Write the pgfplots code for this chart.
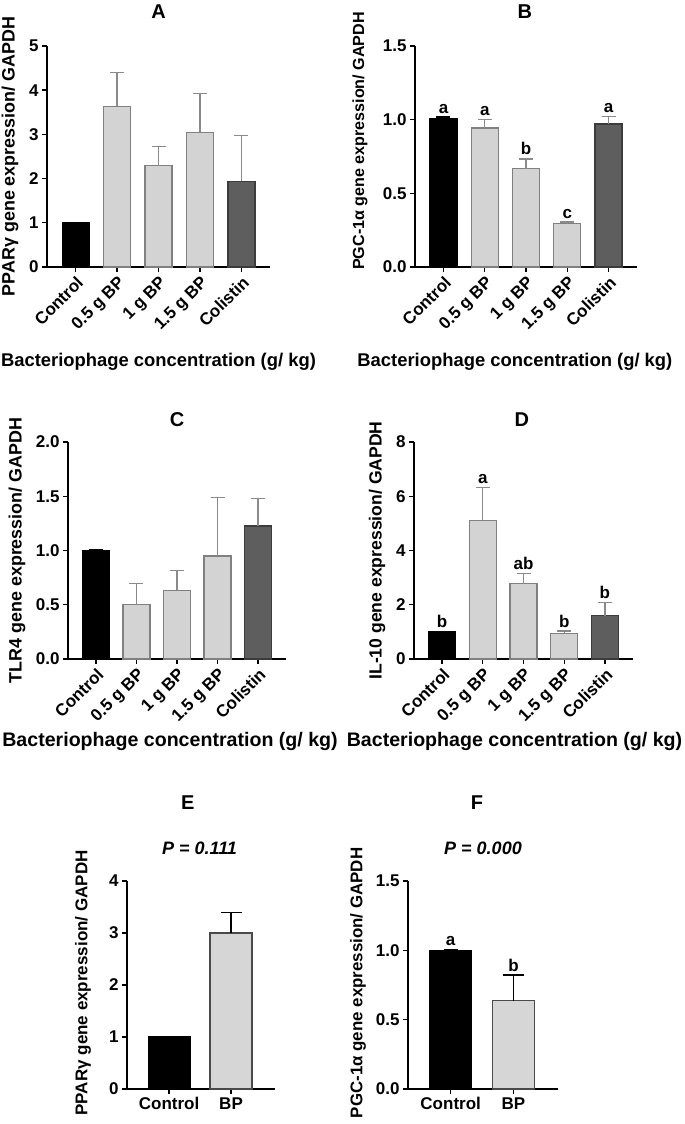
\documentclass[border=0pt]{standalone}
\usepackage{fontspec}
\setmainfont{Liberation Sans}
\usepackage{pgfplots}
\pgfplotsset{compat=1.18}
\definecolor{lg}{HTML}{D3D3D3}
\definecolor{lgedge}{HTML}{808080}
\definecolor{dg}{HTML}{5E5E5E}
\definecolor{dgedge}{HTML}{3C3C3C}
\definecolor{errg}{HTML}{8A8A8A}
\definecolor{bpfill}{HTML}{D6D6D6}
\definecolor{bpedge}{HTML}{4A4A4A}
\newcommand{\fs}[1]{\fontsize{#1}{#1}\selectfont\bfseries}
\pgfplotsset{
  panel/.style={
    scale only axis, clip=false,
    axis lines=left, axis line style={-, line width=1.4pt, black},
    tick align=outside, major tick length=5pt,
    every tick/.style={black, line width=1.4pt},
    tick label style={font=\fs{17}},
    /pgf/number format/assume math mode=true,
    ymin=0,
    every axis title shift=0pt,
    ylabel style={anchor=center},
    xlabel style={anchor=center},
    title style={anchor=center, font=\fs{20}},
  },
  rot/.style={xtick={0,1,2,3,4}, xticklabels={Control,0.5 g BP,1 g BP,1.5 g BP,Colistin},
    x tick label style={rotate=45, anchor=north east, inner sep=2pt}},
  onedec/.style={yticklabel style={/pgf/number format/.cd, fixed, fixed zerofill, precision=1}},
  mybar/.style n args={4}{ybar, bar width=#1, bar shift=0pt, fill=#2, draw=#3, line width=1.2pt,
    error bars/y dir=plus, error bars/y explicit,
    error bars/error bar style={#4, line width=1.4pt},
    error bars/error mark options={#4, rotate=90, line width=1.4pt, mark size=7pt}},
  lab/.style={draw=none, mark=none, nodes near coords, point meta=explicit symbolic,
    nodes near coords style={anchor=south, inner sep=3.5pt, font=\fs{17}}},
}
\begin{document}
\begin{tikzpicture}
\useasboundingbox (0,0) rectangle (685pt,1124pt);

% ---------------- A
\begin{axis}[panel, rot, at={(47pt,857pt)}, anchor=south west, width=223pt, height=221pt,
  xmin=-0.69, xmax=4.69, ymax=5, ytick={0,1,2,3,4,5},
  ylabel={PPARγ gene expression/ GAPDH},
  ylabel style={at={(axis description cs:-0.166,0.5)}, font=\fs{17.9}},
  xlabel={Bacteriophage concentration (g/ kg)},
  xlabel style={at={(axis description cs:0.5,-0.43)}, font=\fs{18.4}},
  title={A}, title style={at={(axis description cs:0.5,1.154)}}]
\addplot[mybar={27pt}{black}{black}{black}] coordinates {(0,1.00) +- (0,0.01)};
\addplot[mybar={27pt}{lg}{lgedge}{errg}] coordinates {(1,3.64) +- (0,0.76) (2,2.29) +- (0,0.44) (3,3.05) +- (0,0.87)};
\addplot[mybar={27pt}{dg}{dgedge}{errg}] coordinates {(4,1.94) +- (0,1.03)};
\end{axis}

% ---------------- B
\begin{axis}[panel, rot, onedec, at={(415pt,857pt)}, anchor=south west, width=222pt, height=221pt,
  xmin=-0.69, xmax=4.69, ymax=1.5, ytick={0,0.5,1,1.5},
  ylabel={PGC-1α gene expression/ GAPDH},
  ylabel style={at={(axis description cs:-0.248,0.57)}, font=\fs{16.1}},
  xlabel={Bacteriophage concentration (g/ kg)},
  xlabel style={at={(axis description cs:0.45,-0.43)}, font=\fs{18.4}},
  title={B}, title style={at={(axis description cs:0.495,1.154)}}]
\addplot[mybar={27pt}{black}{black}{black}] coordinates {(0,1.010) +- (0,0.007)};
\addplot[mybar={27pt}{lg}{lgedge}{errg}] coordinates {(1,0.944) +- (0,0.059) (2,0.666) +- (0,0.068) (3,0.294) +- (0,0.011)};
\addplot[mybar={27pt}{dg}{dgedge}{errg}] coordinates {(4,0.971) +- (0,0.050)};
\addplot[lab] table[meta=l, row sep=\\] {x y l\\ 0 1.017 a\\ 1 1.003 a\\ 2 0.734 b\\ 3 0.305 c\\ 4 1.021 a\\};
\end{axis}

% ---------------- C
\begin{axis}[panel, rot, onedec, at={(68pt,465pt)}, anchor=south west, width=218pt, height=217pt,
  xmin=-0.69, xmax=4.69, ymax=2, ytick={0,0.5,1,1.5,2},
  ylabel={TLR4 gene expression/ GAPDH},
  ylabel style={at={(axis description cs:-0.234,0.5)}, font=\fs{17.9}},
  xlabel={Bacteriophage concentration (g/ kg)},
  xlabel style={at={(axis description cs:0.468,-0.378)}, font=\fs{19.6}},
  title={C}, title style={at={(axis description cs:0.5,1.101)}}]
\addplot[mybar={27pt}{black}{black}{black}] coordinates {(0,1.00) +- (0,0.005)};
\addplot[mybar={27pt}{lg}{lgedge}{errg}] coordinates {(1,0.500) +- (0,0.197) (2,0.633) +- (0,0.181) (3,0.949) +- (0,0.541)};
\addplot[mybar={27pt}{dg}{dgedge}{errg}] coordinates {(4,1.226) +- (0,0.254)};
\end{axis}

% ---------------- D
\begin{axis}[panel, rot, at={(414pt,465pt)}, anchor=south west, width=219pt, height=217pt,
  xmin=-0.69, xmax=4.69, ymax=8, ytick={0,2,4,6,8},
  ylabel={IL-10 gene expression/ GAPDH},
  ylabel style={at={(axis description cs:-0.169,0.5)}, font=\fs{17.6}},
  xlabel={Bacteriophage concentration (g/ kg)},
  xlabel style={at={(axis description cs:0.459,-0.378)}, font=\fs{19.6}},
  title={D}, title style={at={(axis description cs:0.493,1.101)}}]
\addplot[mybar={27pt}{black}{black}{black}] coordinates {(0,1.00) +- (0,0.01)};
\addplot[mybar={27pt}{lg}{lgedge}{errg}] coordinates {(1,5.12) +- (0,1.21) (2,2.78) +- (0,0.38) (3,0.94) +- (0,0.09)};
\addplot[mybar={27pt}{dg}{dgedge}{errg}] coordinates {(4,1.59) +- (0,0.50)};
\addplot[lab] table[meta=l, row sep=\\] {x y l\\ 0 1.01 b\\ 1 6.33 a\\ 2 3.16 ab\\ 3 1.03 b\\ 4 2.09 b\\};
\end{axis}

% ---------------- E
\begin{axis}[panel, at={(127pt,35pt)}, anchor=south west, width=148pt, height=208pt,
  xmin=-0.68, xmax=1.71, ymax=4, ytick={0,1,2,3,4},
  xtick={0,1}, xticklabels={Control,BP},
  ylabel={PPARγ gene expression/ GAPDH},
  ylabel style={at={(axis description cs:-0.297,0.51)}, font=\fs{17}},
  title={E}, title style={at={(axis description cs:0.41,1.375)}}]
\addplot[mybar={42pt}{black}{black}{black}] coordinates {(0,1.00) +- (0,0.01)};
\addplot[mybar={42pt}{bpfill}{bpedge}{black}, line width=1.6pt, error bars/error mark options={black, rotate=90, line width=1.4pt, mark size=10.5pt}] coordinates {(1,3.00) +- (0,0.40)};
\node[font=\fontsize{18}{18}\selectfont\bfseries\itshape] at (axis description cs:0.49,1.159) {P = 0.111};
\end{axis}

% ---------------- F
\begin{axis}[panel, onedec, at={(408pt,35pt)}, anchor=south west, width=150pt, height=208pt,
  xmin=-0.68, xmax=1.71, ymax=1.5, ytick={0,0.5,1,1.5},
  xtick={0,1}, xticklabels={Control,BP},
  ylabel={PGC-1α gene expression/ GAPDH},
  ylabel style={at={(axis description cs:-0.333,0.51)}, font=\fs{16.9}},
  title={F}, title style={at={(axis description cs:0.46,1.375)}}]
\addplot[mybar={42pt}{black}{black}{black}] coordinates {(0,1.000) +- (0,0.005)};
\addplot[mybar={42pt}{bpfill}{bpedge}{black}, line width=1.6pt, error bars/error mark options={black, rotate=90, line width=1.4pt, mark size=10.5pt}] coordinates {(1,0.637) +- (0,0.185)};
\addplot[lab] table[meta=l, row sep=\\] {x y l\\ 0 1.005 a\\ 1 0.822 b\\};
\node[font=\fontsize{18}{18}\selectfont\bfseries\itshape] at (axis description cs:0.5,1.159) {P = 0.000};
\end{axis}
\end{tikzpicture}
\end{document}
